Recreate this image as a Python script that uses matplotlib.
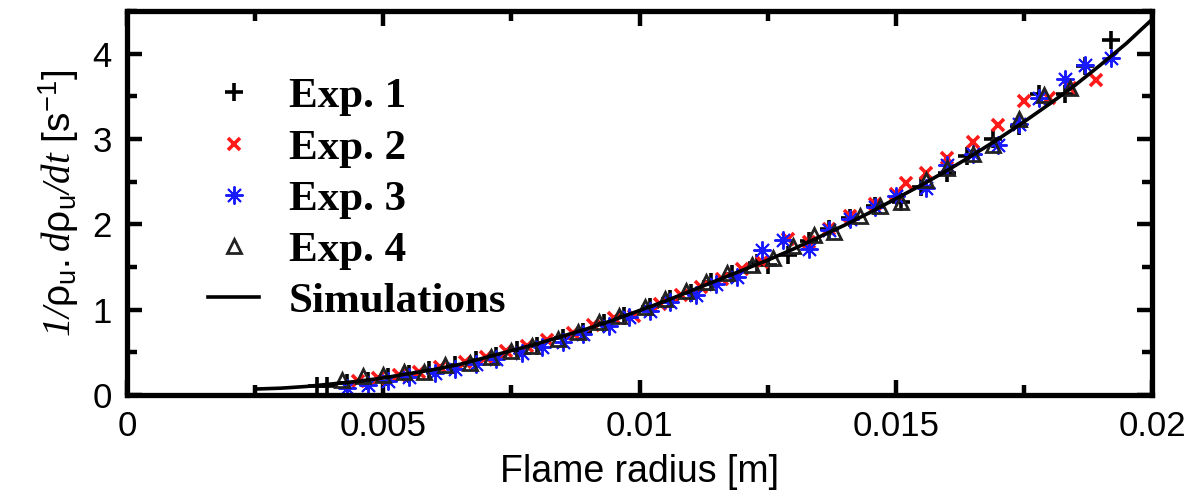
import numpy as np
import matplotlib.pyplot as plt

plt.rcParams['font.family'] = ['Liberation Sans', 'DejaVu Sans']
plt.rcParams['mathtext.fontset'] = 'custom'
plt.rcParams['mathtext.rm'] = 'Liberation Sans'
plt.rcParams['mathtext.it'] = 'Liberation Serif:italic'
plt.rcParams['mathtext.cal'] = 'Liberation Serif:italic'

# ------------------------------------------------------------------
# donnees : rayon de flamme [m] et 1/rho_u . d rho_u / dt [1/s]
# ------------------------------------------------------------------

r_sim = [0.0025, 0.0030, 0.0035, 0.0040, 0.0045, 0.0050, 0.0055, 0.0060, 0.0065,
         0.0070, 0.0075, 0.0080, 0.0085, 0.0090, 0.0095, 0.0100, 0.0105, 0.0110,
         0.0115, 0.0120, 0.0125, 0.0130, 0.0135, 0.0140, 0.0145, 0.0150, 0.0155,
         0.0160, 0.0165, 0.0170, 0.0175, 0.0180, 0.0185, 0.0190, 0.0195, 0.0200]
v_sim = [0.07, 0.08, 0.10, 0.13, 0.16, 0.20, 0.25, 0.30, 0.36,
         0.44, 0.52, 0.60, 0.69, 0.78, 0.88, 0.99, 1.10, 1.22,
         1.34, 1.46, 1.58, 1.71, 1.85, 1.99, 2.14, 2.30, 2.46,
         2.63, 2.81, 3.00, 3.20, 3.41, 3.63, 3.87, 4.12, 4.40]

r_exp1 = [0.0037, 0.0039, 0.0043, 0.0047, 0.0051, 0.0055, 0.0059, 0.0064, 0.0068,
          0.0072, 0.0076, 0.0080, 0.0085, 0.0089, 0.0093, 0.0097, 0.0102, 0.0106,
          0.0110, 0.0114, 0.0118, 0.0123, 0.0125, 0.0129, 0.0133, 0.0137, 0.0141,
          0.0146, 0.0151, 0.0155, 0.0160, 0.0164, 0.0169, 0.0174, 0.0178, 0.0183,
          0.0187, 0.0192]
v_exp1 = [0.10, 0.11, 0.14, 0.17, 0.21, 0.25, 0.29, 0.35, 0.41,
          0.46, 0.53, 0.58, 0.67, 0.74, 0.84, 0.92, 1.03, 1.12,
          1.20, 1.32, 1.42, 1.55, 1.52, 1.64, 1.80, 1.94, 2.07,
          2.21, 2.26, 2.44, 2.60, 2.80, 3.00, 3.15, 3.53, 3.53,
          3.85, 4.16]

r_exp2 = [0.0045, 0.0049, 0.0053, 0.0057, 0.0061, 0.0066, 0.0070, 0.0074, 0.0078,
          0.0082, 0.0087, 0.0091, 0.0095, 0.0099, 0.0104, 0.0108, 0.0112, 0.0116,
          0.0120, 0.0124, 0.0129, 0.0133, 0.0137, 0.0141, 0.0146, 0.0150, 0.0152,
          0.0156, 0.0160, 0.0165, 0.0170, 0.0175, 0.0180, 0.0184, 0.0189]
v_exp2 = [0.17, 0.20, 0.24, 0.27, 0.33, 0.39, 0.45, 0.51, 0.58,
          0.65, 0.73, 0.82, 0.90, 0.93, 1.07, 1.17, 1.26, 1.36,
          1.48, 1.56, 1.83, 1.79, 1.94, 2.10, 2.24, 2.36, 2.49,
          2.60, 2.78, 2.96, 3.16, 3.45, 3.48, 3.60, 3.69]

r_exp3 = [0.0043, 0.0047, 0.0051, 0.0055, 0.0060, 0.0064, 0.0068, 0.0072, 0.0077,
          0.0081, 0.0085, 0.0089, 0.0094, 0.0098, 0.0102, 0.0106, 0.0111, 0.0115,
          0.0119, 0.0124, 0.0128, 0.0133, 0.0137, 0.0141, 0.0146, 0.0150, 0.0156,
          0.0160, 0.0165, 0.0170, 0.0174, 0.0178, 0.0183, 0.0187, 0.0192]
v_exp3 = [0.08, 0.12, 0.16, 0.21, 0.26, 0.30, 0.36, 0.42, 0.49,
          0.56, 0.62, 0.72, 0.81, 0.91, 0.99, 1.09, 1.17, 1.30,
          1.38, 1.70, 1.82, 1.71, 1.93, 2.06, 2.20, 2.33, 2.43,
          2.70, 2.82, 2.93, 3.17, 3.48, 3.70, 3.87, 3.95]

r_exp4 = [0.0042, 0.0046, 0.0050, 0.0054, 0.0058, 0.0062, 0.0067, 0.0071, 0.0075,
          0.0079, 0.0084, 0.0088, 0.0092, 0.0096, 0.0101, 0.0105, 0.0109, 0.0113,
          0.0117, 0.0122, 0.0126, 0.0130, 0.0134, 0.0138, 0.0143, 0.0147, 0.0151,
          0.0156, 0.0160, 0.0165, 0.0169, 0.0174, 0.0179, 0.0184]
v_exp4 = [0.18, 0.22, 0.24, 0.27, 0.27, 0.35, 0.38, 0.44, 0.52,
          0.58, 0.66, 0.74, 0.85, 0.93, 1.03, 1.12, 1.22, 1.33,
          1.43, 1.52, 1.60, 1.75, 1.88, 1.91, 2.10, 2.22, 2.26,
          2.52, 2.66, 2.82, 2.93, 3.24, 3.52, 3.60]

# ------------------------------------------------------------------
# trace
# ------------------------------------------------------------------

fig = plt.figure(figsize=(11.94, 4.99), dpi=100)
ax = fig.add_axes([0.1064, 0.2084, 0.8584, 0.7696])

ax.plot(r_exp1, v_exp1, linestyle='none', marker='+', ms=13, mew=2.6,
        color='black', label='Exp. 1')
ax.plot(r_exp2, v_exp2, linestyle='none', marker='x', ms=9, mew=2.6,
        color='#ff1a1a', label='Exp. 2')
ax.plot(r_exp3, v_exp3, linestyle='none', marker=(8, 2, 0), ms=13, mew=1.4,
        color='#1a1aff', label='Exp. 3')
ax.plot(r_exp4, v_exp4, linestyle='none', marker='^', ms=10, mew=2.0,
        mfc='none', mec='#222222', label='Exp. 4')
ax.plot(r_sim, v_sim, color='black', lw=2.6, label='Simulations')

ax.set_xlim(0, 0.02)
ax.set_ylim(0, 4.5)
ax.set_xticks([0, 0.005, 0.01, 0.015, 0.02])
ax.set_xticklabels(['0', '0.005', '0.01', '0.015', '0.02'])
ax.set_xticks(np.arange(0, 0.0201, 0.0025), minor=True)
ax.set_yticks([0, 1, 2, 3, 4])
ax.set_yticks(np.arange(0, 4.51, 0.5), minor=True)

for s in ax.spines.values():
    s.set_linewidth(3.8)
ax.tick_params(which='both', direction='in', top=True, right=True,
               labelsize=25, width=3.2, pad=11)
ax.tick_params(which='major', length=11)
ax.tick_params(which='minor', length=7)

ax.set_xlabel('Flame radius [m]', fontsize=27, labelpad=8)
ax.set_ylabel(r'$\mathcal{1/}\mathrm{\rho}_\mathrm{u}.\mathcal{d}\mathrm{\rho}_\mathrm{u}\mathcal{/dt}$ [s$^{-1}$]',
              fontsize=28, labelpad=8)

leg = ax.legend(loc='upper left', bbox_to_anchor=(0.062, 0.872), frameon=False,
                prop={'family': 'Liberation Serif', 'weight': 'bold', 'size': 31},
                handlelength=1.2, handletextpad=0.68, labelspacing=0.28,
                borderaxespad=0)

fig.savefig('out.png', dpi=100)
